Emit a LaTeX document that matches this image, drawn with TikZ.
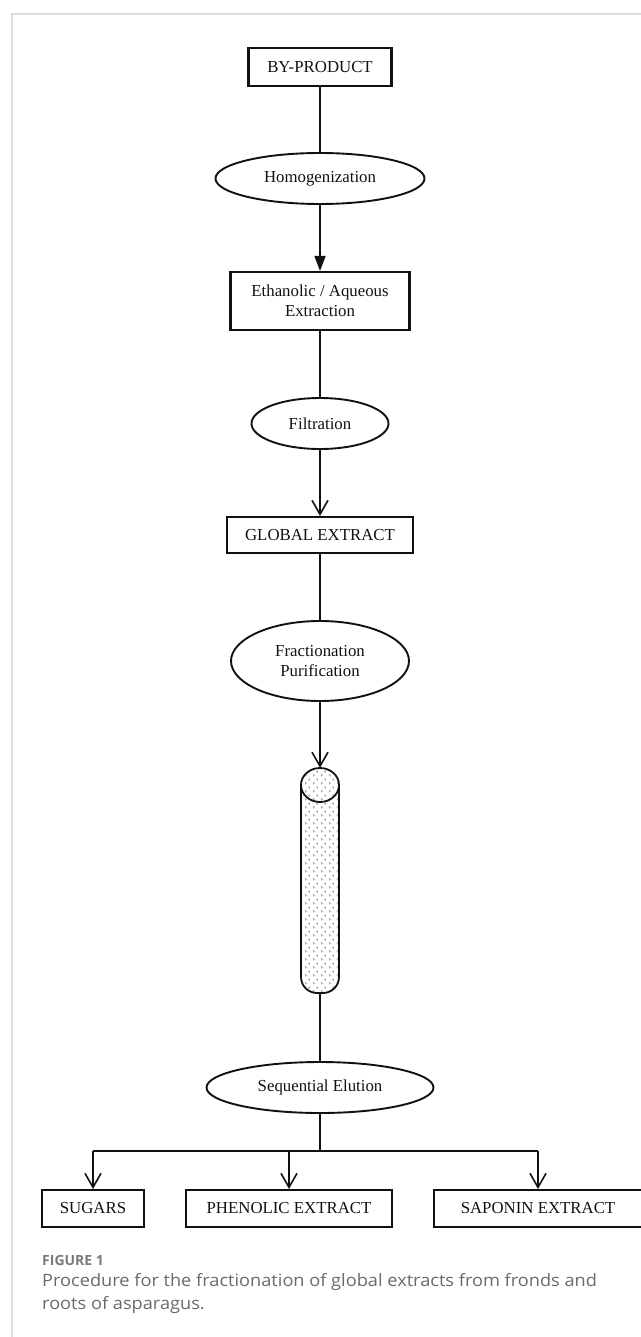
\documentclass[tikz,border=0pt]{standalone}
\usepackage{fontspec}
\setmainfont{Liberation Serif}
\newfontfamily\capfont{Open Sans}
\usetikzlibrary{shapes.geometric,arrows.meta,patterns.meta}
\definecolor{framegray}{HTML}{DDDDDD}
\definecolor{capgray}{HTML}{6A6A6A}
\definecolor{figgray}{HTML}{7A7A7A}
\definecolor{inkc}{HTML}{111111}
\tikzdeclarepattern{
  name=chevdots,
  type=uncolored,
  bounding box={(0pt,0pt) and (8pt,8pt)},
  tile size={(8pt,8pt)},
  code={
    \draw[line width=0.8pt] (1.2pt,1pt) -- (2.6pt,2pt) -- (1.2pt,3pt);
    \draw[line width=0.8pt] (6.6pt,5pt) -- (5.2pt,6pt) -- (6.6pt,7pt);
  }
}
\begin{document}
\begin{tikzpicture}[x=1pt,y=-1pt,
  boxn/.style={draw=inkc, line width=2.1pt, rectangle, inner sep=0pt, font=\fontsize{16.8}{20}\selectfont, text=inkc, align=center},
  ovaln/.style={draw=inkc, line width=1.9pt, ellipse, inner sep=0pt, font=\fontsize{16.8}{20}\selectfont, text=inkc, align=center},
  conn/.style={draw=inkc, line width=1.6pt},
  filledarrow/.style={conn, -{Triangle[length=15pt,width=11pt]}},
  openarrow/.style={conn, -{Straight Barb[length=14pt,width=16pt]}},
  capstyle/.style={anchor=base west, inner sep=0pt, text=capgray}
]
\useasboundingbox (0,0) rectangle (640,1337);
\draw[framegray, line width=1.5pt] (12,1345) -- (12,14) -- (650,14);

\node[boxn, minimum width=143pt, minimum height=38pt] (byp) at (320,67) {BY-PRODUCT};
\node[ovaln, minimum width=209pt, minimum height=51pt] (hom) at (320,178.5) {Homogenization};
\node[boxn, minimum width=179pt, minimum height=58pt] (eth) at (320,301) {Ethanolic / Aqueous\\Extraction};
\node[ovaln, minimum width=137pt, minimum height=51pt] (fil) at (320,423.5) {Filtration};
\node[boxn, minimum width=186pt, minimum height=36pt] (glo) at (320,535) {GLOBAL EXTRACT};
\node[ovaln, minimum width=178pt, minimum height=80pt] (fra) at (320,661) {Fractionation\\Purification};
\node[inner sep=0pt, minimum width=38pt, minimum height=225pt] (col) at (320,880.5) {};
\node[ovaln, minimum width=227pt, minimum height=51pt] (seq) at (320,1087.5) {Sequential Elution};

% column
\draw[inkc, line width=1.8pt, rounded corners=16pt, pattern=chevdots, pattern color=gray!75] (301,785) -- (301,993) -- (339,993) -- (339,785);
\fill[white] (320,785) ellipse [x radius=19, y radius=17];
\draw[inkc, line width=1.8pt, pattern=chevdots, pattern color=gray!75] (320,785) ellipse [x radius=19, y radius=17];

\coordinate (junc) at (320,1151);
\coordinate (bl) at (93,1151);
\coordinate (bm) at (289,1151);
\coordinate (br) at (538,1151);

\node[boxn, minimum width=102pt, minimum height=37pt] (sug) at (93,1208.5) {SUGARS};
\node[boxn, minimum width=206pt, minimum height=37pt] (phe) at (289,1208.5) {PHENOLIC EXTRACT};
\node[boxn, minimum width=208pt, minimum height=37pt] (sap) at (538,1208.5) {SAPONIN EXTRACT};

\draw[conn] (byp.south) -- (hom.north);
\draw[filledarrow] (hom.south) -- (eth.north);
\draw[conn] (eth.south) -- (fil.north);
\draw[openarrow] (fil.south) -- (glo.north);
\draw[conn] (glo.south) -- (fra.north);
\draw[openarrow] (fra.south) -- (col.north);
\draw[conn] (col.south) -- (seq.north);
\draw[conn, line width=2.4pt] (seq.south) -- (junc);
\draw[conn] (bl) -- (br);
\draw[openarrow] (bl) -- (sug.north);
\draw[openarrow] (bm) -- (phe.north);
\draw[openarrow] (br) -- (sap.north);

\node[capstyle, text=figgray, font=\capfont\bfseries\fontsize{14}{16}\selectfont] (figlab) at (42,1265.5) {FIGURE 1};
\node[capstyle, font=\capfont\fontsize{17}{24}\selectfont] (cap1) at (42,1286) {\scalebox{1.07}[1]{Procedure for the fractionation of global extracts from fronds and}};
\node[capstyle, font=\capfont\fontsize{17}{24}\selectfont] (cap2) at (42,1309) {\scalebox{1.07}[1]{roots of asparagus.}};
\end{tikzpicture}
\end{document}
